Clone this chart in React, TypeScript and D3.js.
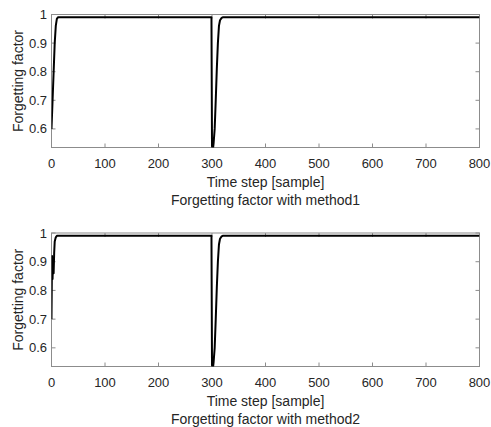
import React, { useEffect, useRef } from 'react';
import * as d3 from 'd3';

// method1 forgetting factor (time step, value)
const steps1 = [0, 2, 4, 6, 8, 10, 12, 299, 300, 301, 302, 303, 305, 307, 309, 311, 313, 315, 318, 320, 800];
const factor1 = [0.6, 0.7, 0.8, 0.9, 0.96, 0.985, 0.99, 0.99, 0.54, 0.53, 0.533, 0.55, 0.6, 0.7, 0.81, 0.9, 0.96, 0.98, 0.988, 0.99, 0.99];

// method2 forgetting factor
const steps2 = [0, 1, 2, 3, 4, 5, 6, 8, 10, 299, 300, 301, 302, 303, 305, 307, 309, 311, 313, 315, 318, 320, 800];
const factor2 = [0.7, 0.92, 0.84, 0.91, 0.86, 0.93, 0.97, 0.985, 0.99, 0.99, 0.54, 0.53, 0.533, 0.55, 0.6, 0.7, 0.81, 0.9, 0.96, 0.98, 0.988, 0.99, 0.99];

const xTicks = [0, 100, 200, 300, 400, 500, 600, 700, 800];
const yTicks = [0.6, 0.7, 0.8, 0.9, 1];
const titles = ['Forgetting factor with method1', 'Forgetting factor with method2'];

const W = 491;
const H = 427;
const font = '"Liberation Sans", Arial, sans-serif';
const axisColor = '#8c8c8c';
const textColor = '#262626';

const App = () => {
    const ref = useRef<SVGSVGElement>(null);

    useEffect(() => {
        const svg = d3.select(ref.current);
        svg.selectAll('*').remove();

        const panels = [
            { steps: steps1, values: factor1, top: 14.5, bottom: 147.5, title: titles[0] },
            { steps: steps2, values: factor2, top: 233, bottom: 366.5, title: titles[1] },
        ];

        const x = d3.scaleLinear().domain([0, 800]).range([51.5, 479.5]);

        panels.forEach((p, i) => {
            const y = d3.scaleLinear().domain([0.535, 1]).range([p.bottom, p.top]);
            const g = svg.append('g');

            const clipId = `clip${i}`;
            g.append('clipPath').attr('id', clipId)
                .append('rect')
                .attr('x', x.range()[0]).attr('y', p.top)
                .attr('width', x.range()[1] - x.range()[0]).attr('height', p.bottom - p.top);

            //box
            g.append('rect')
                .attr('x', x.range()[0]).attr('y', p.top)
                .attr('width', x.range()[1] - x.range()[0]).attr('height', p.bottom - p.top)
                .attr('fill', 'white').attr('stroke', axisColor).attr('stroke-width', 1);

            //ticks, inward on all four sides
            xTicks.forEach(t => {
                g.append('line').attr('x1', x(t)).attr('x2', x(t)).attr('y1', p.bottom).attr('y2', p.bottom - 4)
                    .attr('stroke', axisColor);
                g.append('line').attr('x1', x(t)).attr('x2', x(t)).attr('y1', p.top).attr('y2', p.top + 4)
                    .attr('stroke', axisColor);
                g.append('text').attr('x', x(t)).attr('y', p.bottom + 20)
                    .attr('text-anchor', 'middle').attr('font-size', 13).attr('font-family', font)
                    .attr('fill', textColor).text(t);
            });
            yTicks.forEach(t => {
                g.append('line').attr('x1', x.range()[0]).attr('x2', x.range()[0] + 4).attr('y1', y(t)).attr('y2', y(t))
                    .attr('stroke', axisColor);
                g.append('line').attr('x1', x.range()[1]).attr('x2', x.range()[1] - 4).attr('y1', y(t)).attr('y2', y(t))
                    .attr('stroke', axisColor);
                g.append('text').attr('x', 47).attr('y', y(t) + 4.5)
                    .attr('text-anchor', 'end').attr('font-size', 13).attr('font-family', font)
                    .attr('fill', textColor).text(d3.format('~g')(t));
            });

            const line = d3.line<number>()
                .x((d, k) => x(p.steps[k]))
                .y(d => y(d));

            g.append('path')
                .attr('d', line(p.values))
                .attr('clip-path', `url(#${clipId})`)
                .attr('fill', 'none').attr('stroke', 'black').attr('stroke-width', 2)
                .attr('stroke-linejoin', 'round');

            //labels
            g.append('text').attr('x', (x.range()[0] + x.range()[1]) / 2).attr('y', p.bottom + 39)
                .attr('text-anchor', 'middle').attr('font-size', 14).attr('font-family', font)
                .attr('fill', textColor).text('Time step [sample]');
            g.append('text').attr('x', (x.range()[0] + x.range()[1]) / 2).attr('y', p.bottom + 57)
                .attr('text-anchor', 'middle').attr('font-size', 14).attr('font-family', font)
                .attr('fill', textColor).text(p.title);
            g.append('text')
                .attr('transform', `translate(23,${(p.top + p.bottom) / 2}) rotate(-90)`)
                .attr('text-anchor', 'middle').attr('font-size', 14).attr('font-family', font)
                .attr('fill', textColor).text('Forgetting factor');
        });
    }, []);

    return (
        <svg ref={ref} width={W} height={H}
            style={{ position: 'absolute', left: 0, top: 0, background: 'white' }} />
    );
};

export default App;
